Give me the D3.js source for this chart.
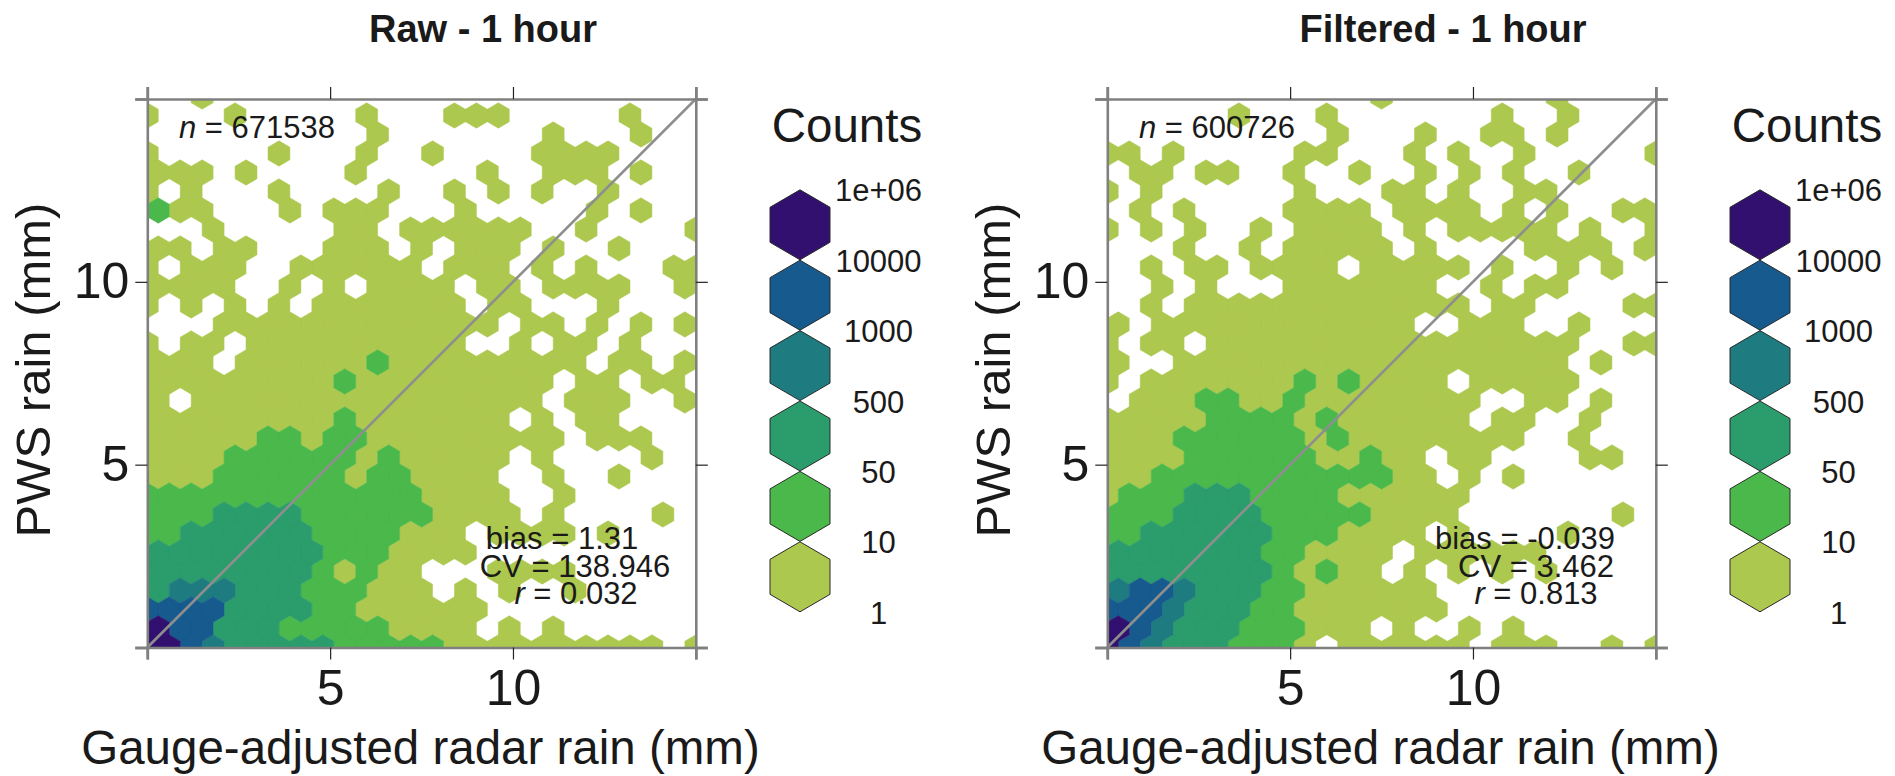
<!DOCTYPE html>
<html>
<head>
<meta charset="utf-8">
<script src="https://cdn.jsdelivr.net/npm/d3@7"></script>
<style>
  body { margin: 0; background: #fff; }
  text { font-family: "Liberation Sans", Arial, sans-serif; fill: #1a1a1a; }
</style>
</head>
<body>
<div id="viz"></div>
<script>
// count class of each hexagon, one string per hexbin row (row 0 at the bottom), one char per column
// 0 = empty bin, 1..6 = legend class
const rawLevels = [
  "66543333322222111111111101",
  "65533322222111101010000000",
  "55553333221111110000000000",
  "34443332221110101001000000",
  "33333333212110001111000000",
  "33333333222111100000000000",
  "22333333222211101111010000",
  "22233332222221111010000100",
  "22222222222221111001000000",
  "11122222212211110010010000",
  "11112222221211111010000100",
  "11111221221111111110111000",
  "11111111121111111010110000",
  "10111111111111111101110010",
  "11111111121111111110110110",
  "11101111112111111111011010",
  "10110111111111100101101000",
  "00011111111111110110101010",
  "10101010111111101100010000",
  "11110010101111011011110010",
  "10111001111110111010100011",
  "11011000111010111010010000",
  "00010000011011111100100001",
  "21100010111000100000101000",
  "10100010000100101010010000",
  "11101000010000010011101000",
  "10000010001001000011110000",
  "00000000001000000010001000",
  "10001000001000111000001000",
  "00100000000000000000000000"
];

const filteredLevels = [
  "65433322210111111011100101",
  "65433322211101001010000000",
  "55543332211111110000000000",
  "45543332211111100000000000",
  "33333333212110101010100000",
  "33333332211110111111000000",
  "22333333222111101000010000",
  "22233332222211110000000100",
  "12223332222111111000000000",
  "11222222222221101010000000",
  "11112222221121101100001100",
  "11122222212111111110010000",
  "11111222212111111011001000",
  "01112211211111111001101000",
  "10111111121211110111110000",
  "10011111111111111111101000",
  "10110111111111111111110011",
  "10111111111111001110010000",
  "00101111111111111011000011",
  "00101000111111100101100000",
  "00101101111011111010010100",
  "00010010111110100001111010",
  "10101001011110101111101001",
  "01010000111101111010100110",
  "10100000010001101001100000",
  "01101100100100101010010000",
  "11010000011000101001000001",
  "00000000001000100110100000",
  "00000010001000000010010000",
  "00000000000010000000100000"
];

const levelColors = ["#adc84f", "#4bb84c", "#2b9c6b", "#1e7c80", "#175a8d", "#32106f"];
const legendLabels = ["1", "10", "50", "500", "1000", "10000", "1e+06"];
const axisTicks = [0, 5, 10, 15];

const panels = [
  { title: "Raw - 1 hour", levels: rawLevels, left: 147.3, n: "671538",
    bias: "1.31", cv: "138.946", r: "0.032", biasX: 562, cvX: 575, rX: 576 },
  { title: "Filtered - 1 hour", levels: filteredLevels, left: 1107.3, n: "600726",
    bias: "-0.039", cv: "3.462", r: "0.813", biasX: 565, cvX: 576, rX: 576 }
];

const binWidth = 15 / 25;                    // xbins = 25
const rowStep = 15 * Math.sqrt(3) / (2 * 25);
const hexR = binWidth / Math.sqrt(3);

const plotSize = 548.5, plotTop = 99;

const svg = d3.select("#viz").append("svg")
  .attr("width", 1895)
  .attr("height", 776);

panels.forEach((p, pi) => {
  const x = d3.scaleLinear().domain([0, 15]).range([p.left, p.left + plotSize]);
  const y = d3.scaleLinear().domain([0, 15]).range([plotTop + plotSize, plotTop]);

  const cells = [];
  p.levels.forEach((row, i) => {
    row.split("").forEach((ch, j) => {
      if (ch !== "0") cells.push({ i, j, level: +ch });
    });
  });

  const hexPath = d => {
    const cx = binWidth * d.j + (d.i % 2 ? binWidth / 2 : 0);
    const cy = rowStep * d.i;
    return d3.line()([
      [x(cx), y(cy + hexR)],
      [x(cx + binWidth / 2), y(cy + hexR / 2)],
      [x(cx + binWidth / 2), y(cy - hexR / 2)],
      [x(cx), y(cy - hexR)],
      [x(cx - binWidth / 2), y(cy - hexR / 2)],
      [x(cx - binWidth / 2), y(cy + hexR / 2)]
    ]) + "Z";
  };

  svg.append("clipPath").attr("id", "clip" + pi)
    .append("rect")
    .attr("x", x(0)).attr("y", y(15))
    .attr("width", plotSize).attr("height", plotSize);

  // hexagons, one path per class so there are no seams between neighbours
  const byLevel = Array.from(d3.group(cells, d => d.level)).sort((a, b) => a[0] - b[0]);
  svg.append("g").attr("clip-path", `url(#clip${pi})`)
    .selectAll("path").data(byLevel).join("path")
    .attr("d", d => d[1].map(hexPath).join(""))
    .attr("fill", d => levelColors[d[0] - 1])
    .attr("stroke", d => levelColors[d[0] - 1])
    .attr("stroke-width", 0.5);

  // 1:1 line
  svg.append("line")
    .attr("x1", x(0)).attr("y1", y(0))
    .attr("x2", x(15)).attr("y2", y(15))
    .attr("stroke", "#8e8e8e")
    .attr("stroke-width", 2.6);

  // axes on all four sides, labels only on bottom and left
  const tickLabel = d => (d === 5 || d === 10) ? d : "";
  const axes = [
    d3.axisBottom(x).tickValues(axisTicks).tickSize(12).tickPadding(10).tickFormat(tickLabel),
    d3.axisTop(x).tickValues(axisTicks).tickSize(12).tickFormat(""),
    d3.axisLeft(y).tickValues(axisTicks).tickSize(12).tickPadding(6).tickFormat(tickLabel),
    d3.axisRight(y).tickValues(axisTicks).tickSize(12).tickFormat("")
  ];
  const shift = [
    [0, y(0)], [0, y(15)], [x(0), 0], [x(15), 0]
  ];
  axes.forEach((ax, k) => {
    const g = svg.append("g")
      .attr("transform", `translate(${shift[k][0]},${shift[k][1]})`)
      .call(ax);
    g.select(".domain").attr("stroke", "#808080").attr("stroke-width", 2.6);
    g.selectAll(".tick line")
      .attr("stroke", d => (d === 0 || d === 15) ? "#808080" : "#222")
      .attr("stroke-width", d => (d === 0 || d === 15) ? 2.6 : 1.2);
    g.selectAll(".tick text").style("font-size", "50px").attr("fill", "#1a1a1a");
  });

  const off = p.left - panels[0].left;

  svg.append("text")
    .attr("x", off + 483).attr("y", 41.5)
    .attr("text-anchor", "middle")
    .style("font-size", "38px").style("font-weight", "bold")
    .text(p.title);

  svg.append("text")
    .attr("x", off + 420.5).attr("y", 764)
    .attr("text-anchor", "middle")
    .style("font-size", "47.5px")
    .text("Gauge-adjusted radar rain (mm)");

  svg.append("text")
    .attr("transform", `translate(${off + 50},${370}) rotate(-90)`)
    .attr("text-anchor", "middle")
    .style("font-size", "49px")
    .text("PWS rain (mm)");

  // statistics
  const stat = (tx, ty, name, italic, val) => {
    const t = svg.append("text")
      .attr("x", off + tx).attr("y", ty)
      .attr("text-anchor", "middle")
      .style("font-size", "31px");
    t.append("tspan").style("font-style", italic ? "italic" : "normal").text(name);
    t.append("tspan").text(" = " + val);
  };
  stat(257, 138, "n", true, p.n);
  stat(p.biasX, 549, "bias", false, p.bias);
  stat(p.cvX, 577, "CV", false, p.cv);
  stat(p.rX, 604, "r", true, p.r);

  // legend
  const legendH = 70, legendW = 60, legendX = off + 800, legendBottom = 612;
  svg.append("text")
    .attr("x", off + 847).attr("y", 142)
    .attr("text-anchor", "middle")
    .style("font-size", "47.5px")
    .text("Counts");

  const legendY = d3.scaleLinear().domain([0, 6]).range([legendBottom, legendBottom - 6 * 70.4]);

  svg.append("g").selectAll("path").data(levelColors).join("path")
    .attr("d", (c, k) => {
      const top = legendY(k + 1) + 0.2, h = legendH;
      return d3.line()([
        [legendX, top],
        [legendX + legendW / 2, top + h / 4],
        [legendX + legendW / 2, top + 3 * h / 4],
        [legendX, top + h],
        [legendX - legendW / 2, top + 3 * h / 4],
        [legendX - legendW / 2, top + h / 4]
      ]) + "Z";
    })
    .attr("fill", c => c)
    .attr("stroke", "#2a2a2a")
    .attr("stroke-width", 1);

  svg.append("g").selectAll("text").data(legendLabels).join("text")
    .attr("x", off + 878.5)
    .attr("y", (d, k) => legendY(k) + 1)
    .attr("dy", "0.35em")
    .attr("text-anchor", "middle")
    .style("font-size", "31px")
    .text(d => d);
});
</script>
</body>
</html>
